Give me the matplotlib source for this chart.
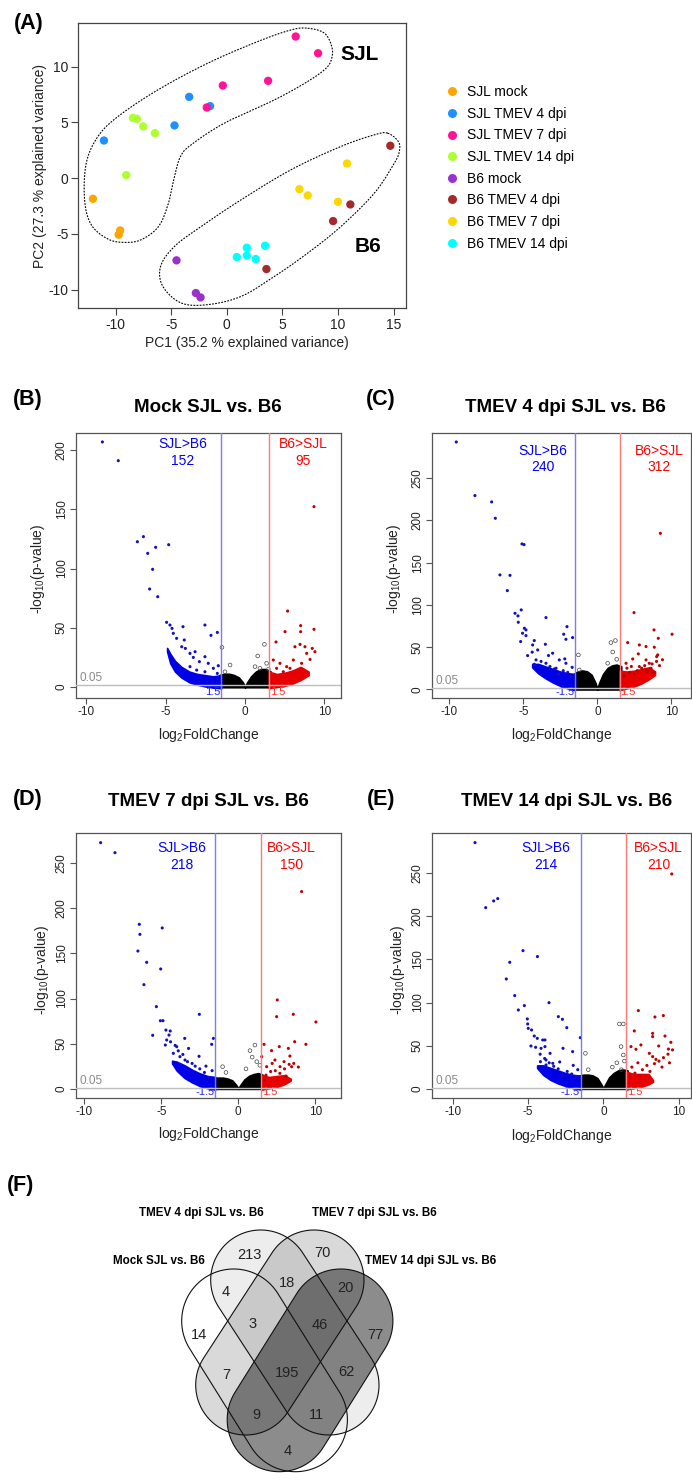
import numpy as np
import matplotlib
matplotlib.use('Agg')
import matplotlib.pyplot as plt
from matplotlib import font_manager as fm
from matplotlib.lines import Line2D
from matplotlib.patches import Polygon

W, H = 692, 1473
_names = {f.name for f in fm.fontManager.ttflist}
SANS = 'Liberation Sans' if 'Liberation Sans' in _names else 'DejaVu Sans'
NARROW = 'Liberation Sans Narrow' if 'Liberation Sans Narrow' in _names else SANS
plt.rcParams['font.family'] = [SANS, 'DejaVu Sans']
plt.rcParams['mathtext.fontset'] = 'custom'
plt.rcParams['mathtext.rm'] = SANS
plt.rcParams['mathtext.it'] = SANS
plt.rcParams['axes.unicode_minus'] = False

# ---------------- DATA ----------------
# (A) PCA
groups = ['SJL mock', 'SJL TMEV 4 dpi', 'SJL TMEV 7 dpi', 'SJL TMEV 14 dpi',
          'B6 mock', 'B6 TMEV 4 dpi', 'B6 TMEV 7 dpi', 'B6 TMEV 14 dpi']
group_colors = ['#FFA500', '#1E90FF', '#FF1493', '#ADFF2F',
                '#9932CC', '#A52A2A', '#FFD700', '#00FFFF']
pc1_sjl_mock = [-12.03, -9.58, -9.72]
pc2_sjl_mock = [-1.85, -4.69, -5.07]
pc1_sjl_4 = [-11.04, -4.70, -3.38, -1.50]
pc2_sjl_4 = [3.37, 4.72, 7.28, 6.45]
pc1_sjl_7 = [6.19, 8.20, 3.71, -0.36, -1.80]
pc2_sjl_7 = [12.69, 11.19, 8.72, 8.30, 6.33]
pc1_sjl_14 = [-8.44, -8.08, -7.51, -6.46, -9.04]
pc2_sjl_14 = [5.40, 5.31, 4.63, 4.03, 0.27]
pc1_b6_mock = [-4.52, -2.78, -2.36]
pc2_b6_mock = [-7.37, -10.30, -10.69]
pc1_b6_4 = [14.69, 11.10, 9.55, 3.56]
pc2_b6_4 = [2.90, -2.36, -3.85, -8.15]
pc1_b6_7 = [10.80, 6.52, 7.27, 9.99]
pc2_b6_7 = [1.31, -0.99, -1.55, -2.12]
pc1_b6_14 = [0.90, 1.80, 1.80, 2.60, 3.44]
pc2_b6_14 = [-7.07, -6.24, -6.93, -7.25, -6.06]
pc1_all = [pc1_sjl_mock, pc1_sjl_4, pc1_sjl_7, pc1_sjl_14, pc1_b6_mock, pc1_b6_4, pc1_b6_7, pc1_b6_14]
pc2_all = [pc2_sjl_mock, pc2_sjl_4, pc2_sjl_7, pc2_sjl_14, pc2_b6_mock, pc2_b6_4, pc2_b6_7, pc2_b6_14]

# hand-drawn group outlines (data coords)
sjl_outline = [(7.27, 13.43), (8.77, 12.99), (9.43, 11.79), (9.43, 10.75), (8.92, 9.85), (7.27, 8.66),
               (4.28, 7.01), (-0.21, 4.93), (-3.2, 2.99), (-4.16, 1.94), (-4.7, 0.15), (-5.24, -2.24),
               (-6.13, -4.33), (-7.69, -5.52), (-9.19, -5.76), (-10.68, -5.46), (-12.18, -4.18),
               (-12.78, -1.94), (-12.63, 1.34), (-11.58, 3.73), (-9.78, 5.52), (-6.19, 7.91),
               (-1.71, 10.3), (2.78, 12.24), (5.77, 13.28)]
b6_outline = [(14.45, 4.03), (15.41, 3.28), (15.5, 2.39), (15.05, 1.34), (13.26, -1.34), (10.26, -4.33),
              (7.27, -6.72), (4.28, -8.81), (1.29, -10.6), (-1.71, -11.34), (-4.1, -11.19), (-5.75, -9.7),
              (-5.95, -7.91), (-4.7, -6.12), (-2.3, -4.33), (1.29, -1.94), (5.77, 0.75), (10.26, 2.84),
              (13.26, 3.88)]

# (B)-(E) volcano plots
cloud_x = [-1.6, -1.3, -1.0, -0.7, -0.4, -0.15, 0, 0.15, 0.4, 0.7, 1.0, 1.3, 1.6]
xtick_labels = ['-10', '-5', '0', '10']

B_blue_x = [-8.97, -7.97, -6.77, -6.39, -6.12, -5.62, -4.80, -5.81, -6.00, -5.49, -4.93, -3.90, -2.52, -2.14, -1.74,
            -4.72, -4.59, -4.51, -4.30, -3.98, -3.75, -3.82, -3.46, -3.25, -3.14, -2.87, -2.52, -2.31, -1.99, -1.68,
            -1.74, -2.52, -3.04, -3.46]
B_blue_y = [206.8, 191.0, 122.6, 126.9, 112.8, 117.9, 120.1, 99.3, 82.7, 76.2, 54.6, 50.9, 52.3, 43.6, 46.1,
            52.3, 49.5, 45.3, 41.1, 34.0, 32.6, 39.7, 28.4, 25.0, 29.8, 21.4, 25.6, 20.0, 15.8, 18.0,
            11.5, 12.9, 14.3, 17.2]
B_red_x = [4.34, 2.68, 3.50, 3.50, 4.34, 2.52, 1.95, 3.14, 3.88, 3.04, 3.56, 2.62, 1.78, 2.20, 1.99, 2.41, 2.83,
           4.09, 4.23, 3.77, 3.46, 4.40]
B_red_y = [152.2, 64.1, 51.8, 46.7, 48.7, 46.7, 38.0, 34.0, 28.4, 22.8, 20.0, 17.2, 22.8, 20.0, 15.8, 12.9, 15.8,
           23.3, 32.6, 34.0, 36.0, 29.8]
B_grey_x = [1.22, 0.80, -0.94, 0.63, 0.94, 1.36, 1.47, -1.26, -1.45]
B_grey_y = [36.0, 26.2, 18.6, 17.2, 15.8, 20.0, 14.9, 12.9, 33.5]
B_cloud_top = [10, 11, 11, 10, 8, 4, 0, 4, 9, 13, 15, 15, 13]
B_bband_x = [-1.5, -2.0, -2.5, -3.0, -3.5, -4.0, -4.4, -4.7, -4.9]
B_bband_lo = [-1, -0.5, 0.5, 2, 4, 8, 13, 20, 30]
B_bband_hi = [10, 9, 10, 11, 13, 17, 22, 28, 33]
B_rband_x = [1.5, 2.0, 2.5, 3.0, 3.5, 4.0]
B_rband_lo = [-1, 0, 1, 3, 6, 10]
B_rband_hi = [13, 11, 12, 14, 17, 13]

C_blue_x = [-9.53, -8.27, -7.14, -6.89, -5.09, -4.95, -6.58, -5.90, -6.08, -5.56, -5.36, -5.14, -5.34, -3.47,
            -4.93, -4.82, -5.05, -4.82, -5.18, -4.26, -4.37, -2.05, -2.27, -1.67, -2.12, -3.51, -4.71, -4.03,
            -3.02, -2.57, -3.47, -4.14, -4.26, -2.12, -2.79, -1.8, -2.0, -2.3, -2.6, -2.9, -3.2, -3.8, -4.4,
            -1.7, -2.2, -3.3]
C_blue_y = [293.0, 229.5, 222.0, 202.6, 172.2, 171.4, 135.5, 135.0, 116.9, 90.0, 86.9, 94.0, 79.4, 84.9,
            72.3, 70.3, 66.4, 63.6, 56.5, 57.7, 52.5, 74.2, 65.2, 61.2, 59.2, 53.3, 39.9, 46.6,
            42.7, 34.8, 30.8, 34.8, 29.6, 30.8, 24.9, 15, 20, 22, 18, 24, 27, 33, 44,
            26, 36, 40]
C_red_x = [4.26, 2.48, 3.83, 5.05, 4.12, 2.05, 2.84, 3.29, 3.85, 2.77, 4.08, 4.01, 2.39, 3.29, 1.94, 3.51, 2.84,
           3.29, 3.63, 2.2, 2.5, 2.7, 3.0, 3.2, 3.4, 3.7, 4.0, 4.2, 2.0, 1.8, 2.3, 3.8, 4.4]
C_red_y = [184.8, 90.8, 70.3, 65.2, 60.4, 55.3, 52.5, 50.6, 49.8, 41.9, 40.7, 38.7, 35.9, 34.8, 30.8, 30.8, 26.9,
           22.9, 24.9, 20, 18, 22, 25, 28, 21, 30, 33, 28, 25, 16, 27, 20, 35]
C_grey_x = [0.92, 1.22, 1.04, -1.28, 0.70, -1.22, 1.31]
C_grey_y = [55.3, 57.7, 44.2, 40.7, 30.8, 22.9, 35.5]
C_cloud_top = [18, 21, 22, 21, 17, 8, 0, 8, 18, 25, 28, 29, 27]
C_bband_x = [-1.5, -2.0, -2.5, -3.0, -3.5, -4.0, -4.4]
C_bband_lo = [-1, 1, 4, 8, 13, 19, 26]
C_bband_hi = [18, 19, 21, 24, 27, 30, 30]
C_rband_x = [1.5, 2.0, 2.5, 3.0, 3.5, 3.9]
C_rband_lo = [-1, 1, 3.5, 7, 12, 17]
C_rband_hi = [22, 21, 22, 24, 26, 21]

D_blue_x = [-8.94, -8.01, -6.43, -6.39, -6.52, -4.94, -5.95, -5.04, -6.13, -5.32, -2.53, -5.06, -4.89, -5.56,
            -4.70, -4.42, -4.50, -4.74, -3.48, -1.62, -1.73, -2.55, -3.23, -4.00, -4.22, -3.79, -3.46, -4.65,
            -1.9, -2.2, -2.5, -2.8, -3.0, -3.3, -3.6, -3.9, -4.1, -4.4, -2.1, -1.7]
D_blue_y = [272.9, 261.8, 182.3, 171.2, 152.7, 178.3, 140.2, 132.8, 115.4, 91.0, 82.5, 75.4, 75.4, 59.2,
            65.0, 64.0, 59.5, 48.4, 55.8, 55.8, 49.2, 35.9, 44.7, 46.6, 39.2, 35.5, 31.8, 54.0,
            12, 18, 22, 25, 28, 30, 38, 42, 48, 52, 25, 20]
D_red_x = [4.11, 2.53, 3.57, 2.49, 5.04, 4.39, 3.66, 1.67, 2.66, 2.16, 3.25, 1.52, 2.38, 3.35, 2.97, 2.71, 3.46,
           1.84, 1.8, 2.1, 2.4, 2.7, 3.0, 3.3, 3.6, 3.9, 2.2, 1.7, 3.1]
D_red_y = [218.6, 98.4, 82.5, 79.9, 74.0, 49.2, 52.1, 49.2, 46.6, 42.2, 44.7, 35.5, 31.8, 36.2, 30.0, 24.4, 24.4,
           24.4, 15, 19, 20, 17, 22, 27, 28, 24, 28, 10, 14]
D_grey_x = [1.08, 0.76, -1.02, 1.2, 0.5, -0.8, 1.4, 0.9]
D_grey_y = [48.4, 42.2, 24.4, 30, 22, 18, 26, 35]
D_cloud_top = [12, 12, 12, 11, 9, 4, 0, 4, 10, 14, 16, 17, 15]
D_bband_x = [-1.5, -2.0, -2.5, -3.0, -3.5, -4.0, -4.3]
D_bband_lo = [-1, 0.5, 3, 7, 12, 20, 28]
D_bband_hi = [13, 14, 17, 21, 26, 30, 31]
D_rband_x = [1.5, 2.0, 2.5, 3.0, 3.4]
D_rband_lo = [-1, 0.5, 2, 5, 9]
D_rband_hi = [15, 13, 14, 15, 11]

E_blue_x = [-8.53, -7.82, -7.29, -7.02, -5.34, -4.38, -6.22, -6.45, -5.89, -5.65, -5.25, -3.61, -5.05, -5.03,
            -4.99, -4.77, -4.59, -4.39, -4.03, -3.88, -4.81, -3.88, -4.14, -2.99, -2.72, -2.43, -2.68, -2.04,
            -1.53, -3.54, -3.81, -4.18, -3.36, -3.81, -1.8, -2.1, -2.4, -2.7, -3.0, -3.3, -3.6, -3.9, -4.2,
            -4.5, -2.0, -1.7, -2.9]
E_blue_y = [285.6, 210.1, 217.9, 220.6, 160.2, 153.3, 146.7, 127.3, 108.0, 91.3, 96.4, 99.8, 80.9, 75.1,
            70.0, 68.1, 61.1, 58.4, 56.5, 56.5, 49.5, 48.8, 46.8, 83.6, 80.5, 70.8, 46.8, 43.0,
            59.2, 41.0, 33.3, 31.3, 29.4, 27.5, 14, 17, 20, 15, 23, 26, 30, 35, 40,
            48, 27, 22, 31]
E_red_x = [4.55, 2.33, 3.99, 3.43, 2.06, 3.28, 3.28, 4.10, 4.49, 4.33, 2.50, 1.84, 2.17, 3.68, 3.06, 3.28, 3.50,
           1.8, 2.1, 2.4, 2.6, 2.9, 3.1, 3.4, 3.7, 4.0, 4.3, 2.3, 1.9, 3.9, 4.6, 4.4]
E_red_y = [249.2, 90.6, 84.8, 83.2, 67.0, 64.2, 60.4, 61.1, 53.8, 46.0, 50.7, 48.8, 45.7, 49.5, 41.0, 37.2, 34.0,
           12, 18, 15, 22, 27, 20, 29, 32, 36, 40, 30, 25, 25, 45, 30]
E_grey_x = [1.07, 1.33, 1.18, -1.19, 1.33, 0.9, 1.4, -1.0, 0.6, 1.2]
E_grey_y = [75.1, 75.1, 48.8, 41.0, 39.1, 30, 32, 22, 25, 22]
E_cloud_top = [15, 16, 16, 15, 12, 5, 0, 5, 13, 18, 21, 22, 21]
E_bband_x = [-1.5, -2.0, -2.5, -3.0, -3.5, -4.0, -4.4]
E_bband_lo = [-1, 0.5, 3, 6, 10, 16, 24]
E_bband_hi = [15, 16, 18, 21, 24, 27, 27]
E_rband_x = [1.5, 2.0, 2.5, 3.0, 3.3]
E_rband_lo = [-1, 0.5, 2, 5, 8]
E_rband_hi = [20, 17, 17, 17, 10]

volcano_titles = ['Mock SJL vs. B6', 'TMEV 4 dpi SJL vs. B6', 'TMEV 7 dpi SJL vs. B6', 'TMEV 14 dpi SJL vs. B6']
n_sjl_up = [152, 240, 218, 214]
n_b6_up = [95, 312, 150, 210]
fc_cut = 1.5
p_line = -np.log10(0.05)

# (F) Venn
venn_sets = ['Mock SJL vs. B6', 'TMEV 4 dpi SJL vs. B6', 'TMEV 7 dpi SJL vs. B6', 'TMEV 14 dpi SJL vs. B6']
venn_regions = ['B', 'C', 'AB', 'BC', 'CD', 'A', 'ABC', 'BCD', 'D', 'AC', 'ABCD', 'BD', 'ACD', 'ABD', 'AD']
venn_counts = [213, 70, 4, 18, 20, 14, 3, 46, 77, 7, 195, 62, 9, 11, 4]

# ---------------- LAYOUT / STYLE ----------------
fig = plt.figure(figsize=(W / 100, H / 100), dpi=100)


def add_ax(l, t, r, b):
    return fig.add_axes([l / W, 1 - b / H, (r - l) / W, (b - t) / H])


def ftext(x, y, s, **kw):
    return fig.text(x / W, 1 - y / H, s, **kw)


def smooth_closed(pts, n=30):
    P = np.array(pts, float)
    m = len(P)
    out = []
    for i in range(m):
        p0, p1, p2, p3 = P[i - 1], P[i], P[(i + 1) % m], P[(i + 2) % m]
        t = np.linspace(0, 1, n, endpoint=False)[:, None]
        out.append(0.5 * ((2 * p1) + (-p0 + p2) * t + (2 * p0 - 5 * p1 + 4 * p2 - p3) * t ** 2 +
                          (-p0 + 3 * p1 - 3 * p2 + p3) * t ** 3))
    out = np.vstack(out)
    return np.vstack([out, out[:1]])


# ----- Panel A -----
axA = add_ax(78, 23, 406, 308)
for xs, ys, c in zip(pc1_all, pc2_all, group_colors):
    axA.scatter(xs, ys, s=36, color=c, edgecolors='none', zorder=3)
for outline in (sjl_outline, b6_outline):
    cur = smooth_closed(outline)
    axA.plot(cur[:, 0], cur[:, 1], color='black', lw=0.8, ls=(0, (1.6, 1.2)), zorder=2)
axA.text(11.97, 11.1, 'SJL', fontsize=15, fontweight='bold', ha='center', va='center')
axA.text(12.72, -6.12, 'B6', fontsize=15, fontweight='bold', ha='center', va='center')
axA.set_xlim(-13.37, 16.1)
axA.set_ylim(-11.64, 13.9)
axA.set_xticks([-10, -5, 0, 5, 10, 15])
axA.set_yticks([-10, -5, 0, 5, 10])
axA.tick_params(direction='out', length=5, width=0.8, color='#444', labelsize=10, labelcolor='#222', pad=2)
for s in axA.spines.values():
    s.set_color('#444')
    s.set_linewidth(0.9)
ftext(247, 343, 'PC1 (35.2 % explained variance)', fontsize=10, ha='center', va='center', color='#222')
ftext(40, 166, 'PC2 (27.3 % explained variance)', fontsize=10, ha='center', va='center', rotation=90, color='#222')
handles = [Line2D([], [], marker='o', ls='none', markersize=6.5, markerfacecolor=c, markeredgecolor='none')
           for c in group_colors]
axA.legend(handles, groups, loc='upper left', bbox_to_anchor=(441 / W, 1 - 81 / H),
           bbox_transform=fig.transFigure, frameon=False, fontsize=10, handlelength=1.0,
           handletextpad=0.55, labelspacing=0.55, borderaxespad=0, borderpad=0.3)

# ----- Volcano panels -----
BLUE_PT, RED_PT = '#1010c0', '#c00000'
BLUE_BAND, RED_BAND = '#0000e6', '#e60000'

volcano_specs = [
    dict(rect=(76, 432.7, 340.7, 697.7), xlim=(-10.63, 6.02), ylim=(-9, 214.6), yt=[0, 50, 100, 150, 200],
         data=(B_blue_x, B_blue_y, B_red_x, B_red_y, B_grey_x, B_grey_y, B_cloud_top,
               B_bband_x, B_bband_lo, B_bband_hi, B_rband_x, B_rband_lo, B_rband_hi),
         lab_x=(-3.92, 3.67), lab_y=(0.957, 0.894), neg='1.5',
         title_xy=(208, 407), ylab_x=38, xlab_y=735),
    dict(rect=(432, 432.7, 691, 697.7), xlim=(-11.17, 6.33), ylim=(-10, 304), yt=[0, 50, 100, 150, 200, 250],
         data=(C_blue_x, C_blue_y, C_red_x, C_red_y, C_grey_x, C_grey_y, C_cloud_top,
               C_bband_x, C_bband_lo, C_bband_hi, C_rband_x, C_rband_lo, C_rband_hi),
         lab_x=(-3.69, 4.19), lab_y=(0.932, 0.869), neg='-1.5',
         title_xy=(565, 407), ylab_x=394, xlab_y=735),
    dict(rect=(76, 833.3, 340.7, 1097.7), xlim=(-10.54, 6.65), ylim=(-10, 283.3), yt=[0, 50, 100, 150, 200, 250],
         data=(D_blue_x, D_blue_y, D_red_x, D_red_y, D_grey_x, D_grey_y, D_cloud_top,
               D_bband_x, D_bband_lo, D_bband_hi, D_rband_x, D_rband_lo, D_rband_hi),
         lab_x=(-3.68, 3.47), lab_y=(0.943, 0.880), neg='-1.5',
         title_xy=(208, 801), ylab_x=42, xlab_y=1134),
    dict(rect=(432, 833.3, 691, 1097.7), xlim=(-11.39, 5.83), ylim=(-10.5, 296.4), yt=[0, 50, 100, 150, 200, 250],
         data=(E_blue_x, E_blue_y, E_red_x, E_red_y, E_grey_x, E_grey_y, E_cloud_top,
               E_bband_x, E_bband_lo, E_bband_hi, E_rband_x, E_rband_lo, E_rband_hi),
         lab_x=(-3.81, 3.68), lab_y=(0.943, 0.880), neg='-1.5',
         title_xy=(567, 801), ylab_x=398, xlab_y=1136),
]

for i, sp in enumerate(volcano_specs):
    ax = add_ax(*sp['rect'])
    bx, by, rx, ry, gx, gy, ctop, bbx, bblo, bbhi, rbx, rblo, rbhi = sp['data']
    ax.fill_between(cloud_x, 0, ctop, color='black', lw=1.5, edgecolor='black', zorder=2)
    ax.scatter(gx, gy, s=7, facecolors='none', edgecolors='#444', linewidths=0.5, zorder=2)
    ax.fill_between(bbx, bblo, bbhi, color=BLUE_BAND, lw=1.2, edgecolor=BLUE_BAND, zorder=3)
    ax.fill_between(rbx, rblo, rbhi, color=RED_BAND, lw=1.2, edgecolor=RED_BAND, zorder=3)
    ax.scatter(bx, by, s=5, color=BLUE_PT, edgecolors='none', zorder=4)
    ax.scatter(rx, ry, s=5, color=RED_PT, edgecolors='none', zorder=4)
    ax.axvline(-fc_cut, color='#7a7aff', lw=1.0, zorder=5)
    ax.axvline(fc_cut, color='#ff7a7a', lw=1.0, zorder=5)
    ax.axhline(p_line, color='#bdbdbd', lw=1.0, zorder=5)
    ax.set_xlim(*sp['xlim'])
    ax.set_ylim(*sp['ylim'])
    ax.set_xticks([-10, -5, 0, 5])
    ax.set_xticklabels(xtick_labels)
    ax.set_yticks(sp['yt'])
    ax.tick_params(direction='out', length=4, width=0.8, color='#555', labelsize=8.5, labelcolor='#222', pad=2)
    ax.tick_params(axis='y', labelrotation=90)
    for lab in ax.get_yticklabels():
        lab.set_va('center')
    for s in ax.spines.values():
        s.set_color('#555')
        s.set_linewidth(0.9)
    tr = ax.get_xaxis_transform()
    ax.text(sp['lab_x'][0], sp['lab_y'][0], 'SJL>B6', color='#0000ff', fontsize=10, ha='center', va='center', transform=tr)
    ax.text(sp['lab_x'][0], sp['lab_y'][1], str(n_sjl_up[i]), color='#0000ff', fontsize=10, ha='center', va='center', transform=tr)
    ax.text(sp['lab_x'][1], sp['lab_y'][0], 'B6>SJL', color='#ff0000', fontsize=10, ha='center', va='center', transform=tr)
    ax.text(sp['lab_x'][1], sp['lab_y'][1], str(n_b6_up[i]), color='#ff0000', fontsize=10, ha='center', va='center', transform=tr)
    ax.text(-fc_cut - 0.05, 0.004, sp['neg'], color='#2020ff', fontsize=8, ha='right', va='bottom', transform=tr)
    ax.text(fc_cut + 0.05, 0.004, '1.5', color='#ff3030', fontsize=8, ha='left', va='bottom', transform=tr)
    ax.text(0.012, p_line + 1, '0.05', color='#8a8a8a', fontsize=8.5, ha='left', va='bottom',
            transform=ax.get_yaxis_transform())
    ftext(sp['title_xy'][0], sp['title_xy'][1], volcano_titles[i], fontsize=13.5, fontweight='bold',
          ha='center', va='center')
    ftext(sp['ylab_x'], (sp['rect'][1] + sp['rect'][3]) / 2 + 4, r'-log$_{10}$(p-value)', fontsize=10,
          ha='center', va='center', rotation=90, color='#222')
    ftext((sp['rect'][0] + sp['rect'][2]) / 2, sp['xlab_y'], r'log$_{2}$FoldChange', fontsize=10,
          ha='center', va='center', color='#222')

# ----- Panel labels -----
for lab, (x, y) in zip(['(A)', '(B)', '(C)', '(D)', '(E)', '(F)'],
                       [(29, 24), (28, 400), (381, 400), (28, 799), (381, 799), (21, 1185)]):
    ftext(x, y, lab, fontsize=15.5, fontweight='bold', ha='center', va='center')

# ----- Panel F: Venn -----
axF = add_ax(0, 1150, 692, 1473)
axF.set_xlim(0, 692)
axF.set_ylim(1473, 1150)
axF.axis('off')


def stadium(p1, p2, r, n=80):
    p1, p2 = np.array(p1, float), np.array(p2, float)
    d = p2 - p1
    ang = np.arctan2(d[1], d[0])
    t1 = np.linspace(ang + np.pi / 2, ang + 3 * np.pi / 2, n)
    t2 = np.linspace(ang - np.pi / 2, ang + np.pi / 2, n)
    return np.vstack([p1 + r * np.c_[np.cos(t1), np.sin(t1)], p2 + r * np.c_[np.cos(t2), np.sin(t2)]])


venn_shapes = [((233.7, 1321), (295.4, 1419.7), 52),
               ((260.7, 1280), (329.0, 1385.0), 50),
               ((314.0, 1280), (245.7, 1385.0), 50),
               ((340.9, 1321), (279.2, 1419.7), 52)]
venn_fill = [('white', 1.0), ('black', 0.07), ('black', 0.15), ('black', 0.45)]
for (p1, p2, r), (fc, al) in zip(venn_shapes, venn_fill):
    pts = stadium(p1, p2, r)
    axF.add_patch(Polygon(pts, closed=True, facecolor=fc, alpha=al, edgecolor='none'))
for (p1, p2, r) in venn_shapes:
    pts = stadium(p1, p2, r)
    axF.add_patch(Polygon(pts, closed=True, facecolor='none', edgecolor='#111', lw=0.8))

venn_label_xy = [(249.3, 1255), (322.3, 1253.3), (226, 1291.7), (287.3, 1283.3), (345.7, 1288.3),
                 (199, 1335), (252.7, 1324), (320, 1325), (375, 1335), (226.7, 1375), (287.3, 1372.7),
                 (346.7, 1371.7), (256.7, 1415), (316.7, 1415), (287.3, 1450.7)]
for (x, y), c in zip(venn_label_xy, venn_counts):
    axF.text(x, y, str(c), fontsize=10.5, family=[NARROW, SANS], ha='center', va='center', color='#222')
venn_set_xy = [(159, 1261), (201, 1213), (374, 1213), (430.5, 1261)]
for (x, y), s in zip(venn_set_xy, venn_sets):
    axF.text(x, y, s, fontsize=8.4, fontweight='bold', family=[NARROW, SANS], ha='center', va='center')

fig.savefig('out.png', dpi=100)
